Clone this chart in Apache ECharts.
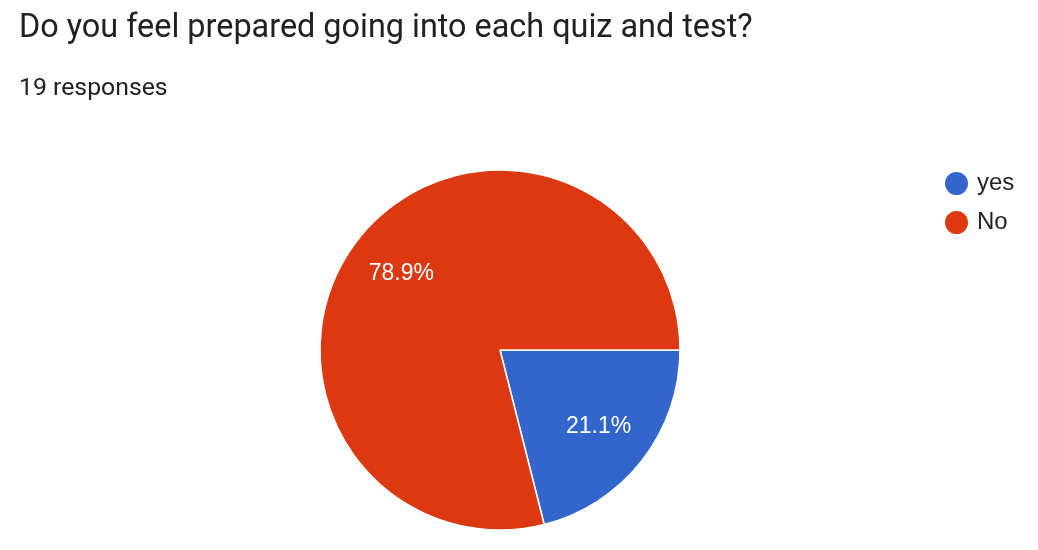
<!DOCTYPE html>
<html>
<head>
<meta charset="utf-8">
<script src="https://cdn.jsdelivr.net/npm/echarts@6/dist/echarts.min.js"></script>
<style>html,body{margin:0;padding:0;background:#fff}#c{width:1038px;height:550px}</style>
</head>
<body>
<div id="c"></div>
<script>
const titleText = "Do you feel prepared going into each quiz and test?";
const subtitleText = "19 responses";
const categories = ["yes", "No"];
const counts = [4, 15];
const colors = ["#3366cc", "#dc3912"];

const data = categories.map((c, i) => ({ name: c, value: counts[i], itemStyle: { color: colors[i] } }));
const total = counts.reduce((a, b) => a + b, 0);

const chart = echarts.init(document.getElementById('c'));
chart.setOption({
  backgroundColor: '#fff',
  animation: false,
  title: [
    { text: titleText, left: 14, top: 8, padding: 5, textStyle: { fontFamily: 'Roboto', fontSize: 32.4, fontWeight: 'normal', color: '#202124' } },
    { text: subtitleText, left: 14, top: 71, padding: 5, textStyle: { fontFamily: 'Roboto', fontSize: 24.8, fontWeight: 'normal', color: '#202124' } }
  ],
  legend: {
    orient: 'vertical',
    left: 938,
    top: 165,
    icon: 'circle',
    itemWidth: 25,
    itemHeight: 25,
    itemGap: 12,
    data: categories,
    textStyle: { fontFamily: 'Liberation Sans', fontSize: 24, lineHeight: 25, color: '#222', padding: [0, 0, 0, 3] }
  },
  series: [
    {
      type: 'pie',
      center: [500, 350],
      radius: [0, 180],
      startAngle: 0,
      clockwise: true,
      silent: true,
      label: { show: false },
      labelLine: { show: false },
      itemStyle: { borderColor: '#fff', borderWidth: 1.5 },
      data: data
    },
    {
      type: 'pie',
      center: [500, 350],
      radius: [102, 142],
      startAngle: 0,
      clockwise: true,
      silent: true,
      legendHoverLink: false,
      itemStyle: { color: 'transparent', borderWidth: 0 },
      label: {
        show: true,
        position: 'inside',
        formatter: p => (p.value / total * 100).toFixed(1) + '%',
        fontFamily: 'Liberation Sans',
        fontSize: 23,
        color: '#fff'
      },
      labelLine: { show: false },
      data: categories.map((c, i) => ({ name: c + ' ', value: counts[i] }))
    }
  ]
});
</script>
</body>
</html>
